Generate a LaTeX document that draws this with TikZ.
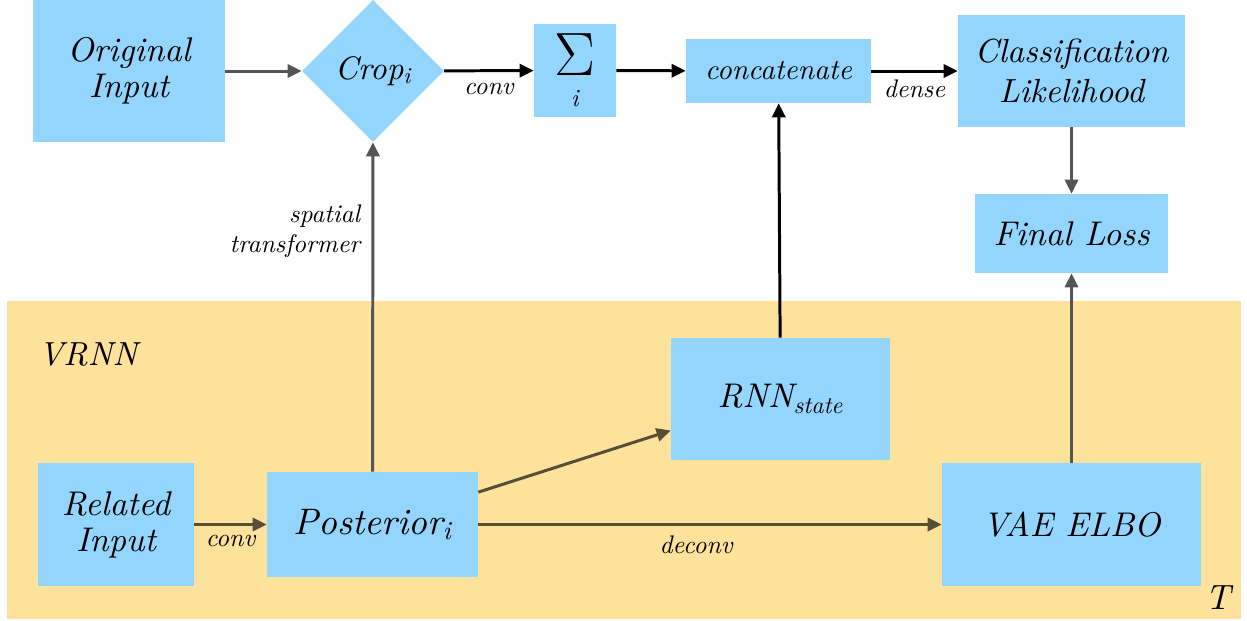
\documentclass[tikz,border=0pt]{standalone}
\usepackage{fontspec}
\newfontfamily\diagfont{lmroman10-regular.otf}[ItalicFont=lmroman10-italic.otf]
\usetikzlibrary{shapes.geometric}
\usetikzlibrary{arrows.meta}
\usetikzlibrary{positioning}

\definecolor{boxblue}{HTML}{93D5FD}
\definecolor{bandyellow}{HTML}{FDE29C}
\definecolor{arrowgray}{HTML}{555555}
\definecolor{arrowolive}{HTML}{574F35}

\begin{document}
\begin{tikzpicture}[x=0.02cm, y=-0.02cm,
    block/.style={fill=boxblue, inner sep=0pt, align=center, text=black,
        font=\diagfont\fontsize{19.5}{20.5}\selectfont\itshape},
    edgelabel/.style={text=black, font=\diagfont\fontsize{14.5}{17}\selectfont\itshape},
    flow/.style={-{Triangle[length=8pt,width=7.5pt]}, line width=1.7pt},
]
    \useasboundingbox (0,0) rectangle (1247,620);

    % Time-step band
    \fill[bandyellow] (7,301) rectangle (1241,619);
    \node[font=\diagfont\fontsize{19}{20}\selectfont\itshape] (vrnnlabel) at (88,354) {VRNN};
    \node[font=\diagfont\fontsize{20}{20}\selectfont\itshape] (tlabel) at (1218,598) {T};

    % Top row
    \node[block, minimum width=3.84cm, minimum height=2.84cm] (orig) at (129,71) {Original\\Input};
    \node[block, diamond, minimum width=2.84cm, minimum height=2.84cm,
        font=\diagfont\fontsize{18.5}{19}\selectfont\itshape] (crop) at (373,71) {Crop\textsubscript{i}};
    \node[block, minimum width=1.64cm, minimum height=1.86cm] (sum) at (575,70.5)
        {{\fontsize{24.88}{26}\selectfont\scalebox{1.4}{$\Sigma$}}\\[-3pt]{\fontsize{14}{14}\selectfont i}};
    \node[block, minimum width=3.7cm, minimum height=1.28cm,
        font=\diagfont\fontsize{16.5}{16.5}\selectfont\itshape] (concat) at (778.5,71) {concatenate};
    \node[block, minimum width=4.54cm, minimum height=2.24cm,
        font=\diagfont\fontsize{19}{22.5}\selectfont\itshape] (cls) at (1071.5,71) {Classification\\Likelihood};
    \node[block, minimum width=3.86cm, minimum height=1.58cm] (loss) at (1071.5,233.5) {Final Loss};

    % Recurrent part
    \node[block, minimum width=3.12cm, minimum height=2.46cm] (rel) at (116,524.5) {Related\\Input};
    \node[block, minimum width=4.22cm, minimum height=2.1cm,
        font=\diagfont\fontsize{21}{21}\selectfont\itshape] (post) at (372.5,524.5) {Posterior\textsubscript{i}};
    \node[block, minimum width=4.38cm, minimum height=2.44cm] (rnn) at (780.5,399) {RNN\textsubscript{state}};
    \node[block, minimum width=5.18cm, minimum height=2.46cm] (vae) at (1071.5,524.5) {VAE ELBO};

    % Connections
    \draw[flow, arrowgray] (orig) -- (crop);
    \draw[flow, arrowgray] (post) -- (crop)
        node[edgelabel, pos=0.73, left, align=right, xshift=-3pt] {spatial\\transformer};
    \draw[flow] (crop) -- (sum) node[edgelabel, midway, below, yshift=-3pt] {conv};
    \draw[flow] (sum) -- (concat);
    \draw[flow] (concat) -- (cls) node[edgelabel, midway, below, yshift=-1pt] {dense};
    \draw[flow] (rnn) -- (concat);
    \draw[flow, arrowgray] (cls) -- (loss);
    \draw[flow, arrowgray] (vae) -- (loss);
    \draw[flow, arrowolive] (rel) -- (post) node[edgelabel, midway, below, yshift=-2pt] {conv};
    \draw[flow, arrowolive] (post.17) -- (rnn.196);
    \draw[flow, arrowolive] (post) -- (vae) node[edgelabel, pos=0.47, below, yshift=-2pt] {deconv};
\end{tikzpicture}
\end{document}
